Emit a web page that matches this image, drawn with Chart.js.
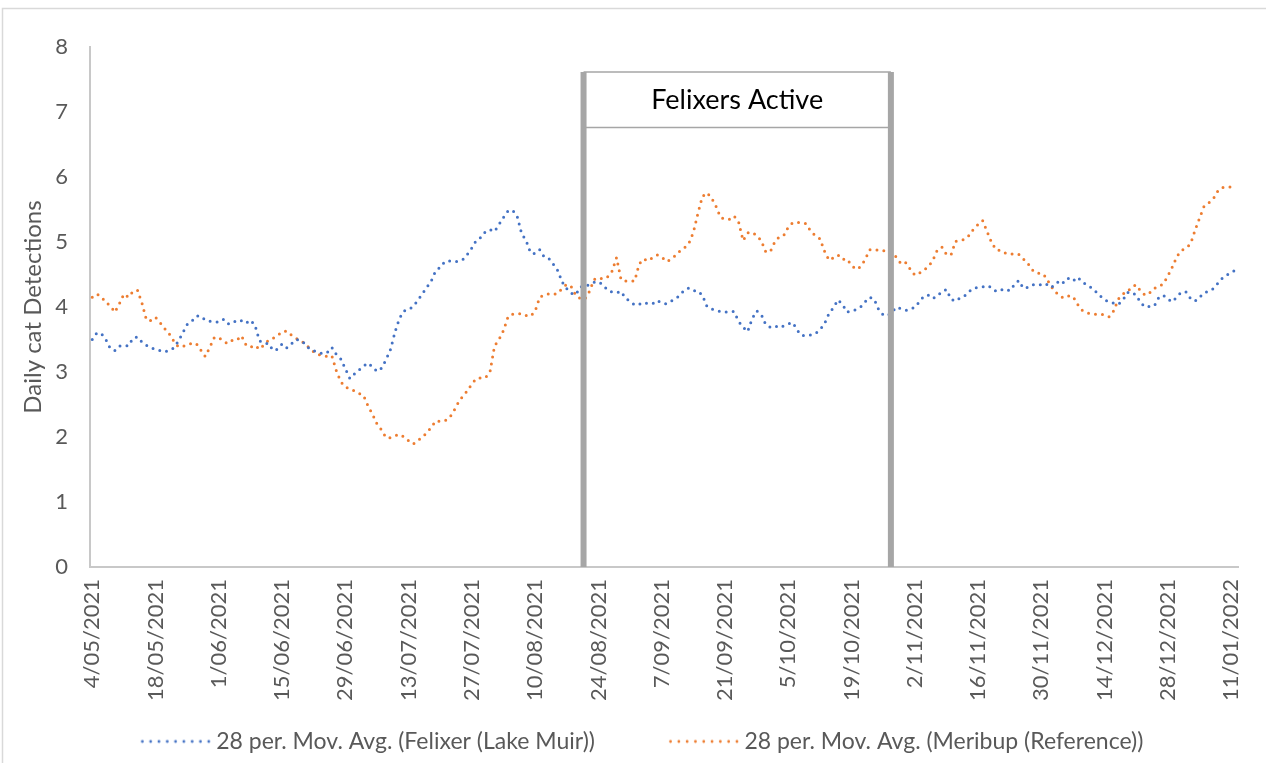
<!DOCTYPE html>
<html>
<head>
<meta charset="utf-8">
<script src="https://cdn.jsdelivr.net/npm/chart.js@4.4.1/dist/chart.umd.min.js"></script>
<style>
html,body{margin:0;padding:0;background:#ffffff;}
canvas{display:block;}
</style>
</head>
<body>
<canvas id="c" width="1266" height="763"></canvas>
<script>
// ---------- DATA ----------
const firstDay = [2021, 4, 4];           // 4 May 2021 (year, monthIndex, day)
const dayCount = 254;                    // daily categories
const tickLabels = ['4/05/2021','18/05/2021','1/06/2021','15/06/2021','29/06/2021','13/07/2021','27/07/2021',
  '10/08/2021','24/08/2021','7/09/2021','21/09/2021','5/10/2021','19/10/2021','2/11/2021','16/11/2021',
  '30/11/2021','14/12/2021','28/12/2021','11/01/2022'];
const tickEvery = 14;
const seriesNames = ['28 per. Mov. Avg. (Felixer (Lake Muir))', '28 per. Mov. Avg. (Meribup (Reference))'];
const yAxisTitle = 'Daily cat Detections';

const felixer = [
  3.50,3.60,3.59,3.50,3.36,3.33,3.40,3.41,3.40,3.52,
  3.54,3.46,3.41,3.37,3.35,3.33,3.31,3.33,3.37,3.47,
  3.60,3.73,3.78,3.86,3.86,3.80,3.78,3.77,3.77,3.81,
  3.74,3.75,3.80,3.79,3.75,3.80,3.72,3.48,3.44,3.44,
  3.33,3.35,3.43,3.37,3.43,3.50,3.49,3.44,3.36,3.33,
  3.30,3.28,3.30,3.38,3.27,3.20,3.05,2.90,2.97,3.03,
  3.09,3.14,3.08,3.01,3.06,3.19,3.35,3.62,3.83,3.94,
  3.96,4.01,4.10,4.20,4.30,4.40,4.56,4.61,4.70,4.71,
  4.70,4.70,4.73,4.81,4.91,5.03,5.07,5.16,5.19,5.16,
  5.27,5.38,5.48,5.49,5.40,5.13,5.02,4.83,4.82,4.88,
  4.77,4.75,4.66,4.56,4.38,4.28,4.21,4.19,4.31,4.31,
  4.35,4.38,4.39,4.34,4.26,4.23,4.22,4.24,4.13,4.09,
  4.03,4.04,4.07,4.05,4.05,4.10,4.06,4.05,4.09,4.12,
  4.18,4.26,4.29,4.25,4.25,4.18,4.01,3.97,3.95,3.93,
  3.92,3.93,3.93,3.78,3.69,3.62,3.82,3.94,3.89,3.73,
  3.69,3.71,3.68,3.71,3.74,3.76,3.64,3.56,3.56,3.57,
  3.59,3.65,3.74,3.90,3.99,4.11,4.04,3.92,3.94,3.96,
  4.00,4.08,4.15,4.12,3.96,3.88,3.87,3.93,4.00,3.97,
  3.95,3.96,4.00,4.08,4.17,4.18,4.13,4.17,4.24,4.27,
  4.12,4.09,4.14,4.17,4.24,4.29,4.30,4.31,4.33,4.30,
  4.24,4.26,4.28,4.25,4.34,4.41,4.29,4.30,4.34,4.35,
  4.34,4.36,4.30,4.33,4.41,4.37,4.44,4.40,4.46,4.39,
  4.34,4.30,4.24,4.17,4.11,4.08,4.06,4.04,4.10,4.22,
  4.23,4.18,4.06,4.00,4.01,4.02,4.15,4.18,4.12,4.08,
  4.16,4.23,4.23,4.13,4.09,4.15,4.22,4.24,4.28,4.36,
  4.44,4.49,4.53,4.57
];

const meribup = [
  4.15,4.20,4.16,4.07,4.02,3.92,4.05,4.20,4.15,4.24,
  4.26,4.06,3.80,3.79,3.84,3.76,3.67,3.59,3.48,3.39,
  3.39,3.42,3.44,3.44,3.34,3.24,3.38,3.53,3.53,3.47,
  3.44,3.49,3.49,3.56,3.42,3.38,3.41,3.35,3.42,3.49,
  3.52,3.56,3.62,3.63,3.57,3.52,3.49,3.44,3.37,3.31,
  3.27,3.25,3.24,3.25,3.02,2.85,2.77,2.74,2.71,2.67,
  2.64,2.48,2.35,2.20,2.11,1.99,1.99,2.02,2.04,2.00,
  1.94,1.89,1.94,2.00,2.06,2.15,2.25,2.24,2.25,2.29,
  2.40,2.53,2.63,2.71,2.82,2.90,2.91,2.91,3.00,3.40,
  3.50,3.64,3.85,3.89,3.89,3.90,3.87,3.86,3.94,4.15,
  4.19,4.20,4.19,4.21,4.29,4.35,4.31,4.18,4.13,4.12,
  4.24,4.42,4.45,4.43,4.46,4.55,4.76,4.42,4.40,4.40,
  4.40,4.66,4.74,4.71,4.76,4.80,4.77,4.70,4.73,4.79,
  4.86,4.91,4.98,5.15,5.44,5.70,5.76,5.68,5.55,5.38,
  5.35,5.35,5.40,5.31,5.02,5.14,5.15,5.10,5.02,4.85,
  4.85,5.00,5.08,5.10,5.23,5.30,5.30,5.30,5.28,5.16,
  5.10,5.05,4.86,4.72,4.76,4.80,4.73,4.74,4.64,4.58,
  4.62,4.73,4.88,4.87,4.88,4.87,4.83,4.83,4.76,4.66,
  4.68,4.58,4.49,4.52,4.57,4.62,4.72,4.88,4.92,4.81,
  4.80,5.01,5.02,5.04,5.10,5.20,5.27,5.33,5.16,4.99,
  4.88,4.87,4.83,4.81,4.82,4.81,4.74,4.67,4.57,4.52,
  4.52,4.46,4.33,4.24,4.17,4.14,4.17,4.16,4.04,3.95,
  3.91,3.90,3.89,3.89,3.88,3.85,3.94,4.12,4.20,4.23,
  4.31,4.34,4.24,4.18,4.22,4.29,4.31,4.36,4.48,4.62,
  4.78,4.87,4.91,4.97,5.18,5.37,5.55,5.60,5.66,5.78,
  5.84,5.84,5.85
];

// "Felixers Active" period (category index) and box levels (y units)
const activeLabel = 'Felixers Active';
const activeStartIdx = 108.7;
const activeEndIdx = 176.7;
const boxTopLevel = 7.615;
const bandBottomLevel = 6.76;

// ---------- STYLE ----------
const FONT = 'Lato';
const TEXT_GREY = '#595959';
const BLUE = '#4472C4';
const ORANGE = '#ED7D31';
const LEGEND_BOX_W = 110;

const dayLabels = [];
for (let i = 0; i < dayCount; i++) {
  const d = new Date(firstDay[0], firstDay[1], firstDay[2] + i);
  dayLabels.push(d.getDate() + '/' + String(d.getMonth() + 1).padStart(2, '0') + '/' + d.getFullYear());
}

// legend sample: 9 small round dots, placed at the right end of the legend box
function legendSample(color) {
  const cv = document.createElement('canvas');
  cv.width = LEGEND_BOX_W + 16; cv.height = 6;
  const c = cv.getContext('2d');
  c.fillStyle = color;
  const endX = cv.width - 4;
  for (let k = 0; k < 9; k++) {
    c.beginPath();
    c.arc(endX - k * 8.3, 3, 1.4, 0, Math.PI * 2);
    c.fill();
  }
  return cv;
}
const samples = [legendSample(BLUE), legendSample(ORANGE)];

const framePlugin = {
  id: 'frame',
  beforeDraw(chart) {
    const ctx = chart.ctx;
    ctx.save();
    ctx.strokeStyle = '#d9d9d9';
    ctx.lineWidth = 1.5;
    ctx.beginPath();
    ctx.moveTo(2.5, 763);
    ctx.lineTo(2.5, 8.5);
    ctx.lineTo(1266, 8.5);
    ctx.stroke();
    ctx.restore();
  }
};

const felixerBox = {
  id: 'felixerBox',
  afterDatasetsDraw(chart) {
    const {ctx, scales: {x, y}} = chart;
    const x1 = x.getPixelForValue(activeStartIdx);
    const x2 = x.getPixelForValue(activeEndIdx);
    const yTop = y.getPixelForValue(boxTopLevel);
    const yBand = y.getPixelForValue(bandBottomLevel);
    const yBot = y.getPixelForValue(0);
    ctx.save();
    ctx.fillStyle = '#ffffff';
    ctx.fillRect(x1, yTop, x2 - x1, yBand - yTop);
    ctx.strokeStyle = '#a6a6a6';
    ctx.lineWidth = 1.5;
    ctx.beginPath();
    ctx.moveTo(x1, yTop); ctx.lineTo(x2, yTop);
    ctx.moveTo(x1, yBand); ctx.lineTo(x2, yBand);
    ctx.stroke();
    ctx.lineWidth = 6;
    ctx.beginPath();
    ctx.moveTo(x1, yTop); ctx.lineTo(x1, yBot);
    ctx.moveTo(x2, yTop); ctx.lineTo(x2, yBot);
    ctx.stroke();
    ctx.fillStyle = '#000000';
    ctx.font = '27px ' + FONT;
    ctx.textAlign = 'center';
    ctx.textBaseline = 'middle';
    ctx.fillText(activeLabel, (x1 + x2) / 2, (yTop + yBand) / 2);
    ctx.restore();
  }
};

const lineStyle = {
  borderWidth: 3,
  borderDash: [0, 7],
  borderCapStyle: 'round',
  pointRadius: 0,
  pointHoverRadius: 0,
  tension: 0,
  fill: false
};

new Chart(document.getElementById('c'), {
  type: 'line',
  data: {
    labels: dayLabels,
    datasets: [
      Object.assign({label: seriesNames[0], data: felixer, borderColor: BLUE, backgroundColor: BLUE}, lineStyle),
      Object.assign({label: seriesNames[1], data: meribup, borderColor: ORANGE, backgroundColor: ORANGE}, lineStyle)
    ]
  },
  options: {
    responsive: false,
    animation: false,
    devicePixelRatio: 1,
    layout: {padding: {left: 0, right: 28, top: 47, bottom: 0}},
    plugins: {
      tooltip: {enabled: false},
      legend: {
        position: 'bottom',
        labels: {
          usePointStyle: true,
          pointStyleWidth: LEGEND_BOX_W,
          padding: 28,
          color: TEXT_GREY,
          font: {family: FONT, size: 23},
          generateLabels(chart) {
            const items = Chart.defaults.plugins.legend.labels.generateLabels(chart);
            items.forEach((it, i) => { it.pointStyle = samples[i]; it.lineWidth = 0; });
            return items;
          }
        }
      }
    },
    scales: {
      x: {
        offset: true,
        grid: {display: true, drawOnChartArea: false, drawTicks: false},
        border: {display: true, color: '#c8c8c8', width: 2},
        ticks: {
          autoSkip: false,
          minRotation: 90,
          maxRotation: 90,
          padding: 12,
          color: TEXT_GREY,
          font: {family: FONT, size: 22},
          callback: (v, i) => (i % tickEvery === 0 ? tickLabels[i / tickEvery] : '')
        },
        afterFit: (s) => { s.height = 135; s.paddingLeft = 0; s.paddingRight = 0; }
      },
      y: {
        min: 0,
        max: 8,
        grid: {display: true, drawOnChartArea: false, drawTicks: false},
        border: {display: true, color: '#c8c8c8', width: 2},
        ticks: {stepSize: 1, padding: 22, color: TEXT_GREY, font: {family: FONT, size: 22}},
        title: {display: true, text: yAxisTitle, color: TEXT_GREY, font: {family: FONT, size: 24}, padding: {top: 19, bottom: 0}},
        afterFit: (s) => { s.width = 90; s.paddingTop = 0; s.paddingBottom = 0; }
      }
    }
  },
  plugins: [framePlugin, felixerBox]
});
</script>
</body>
</html>
